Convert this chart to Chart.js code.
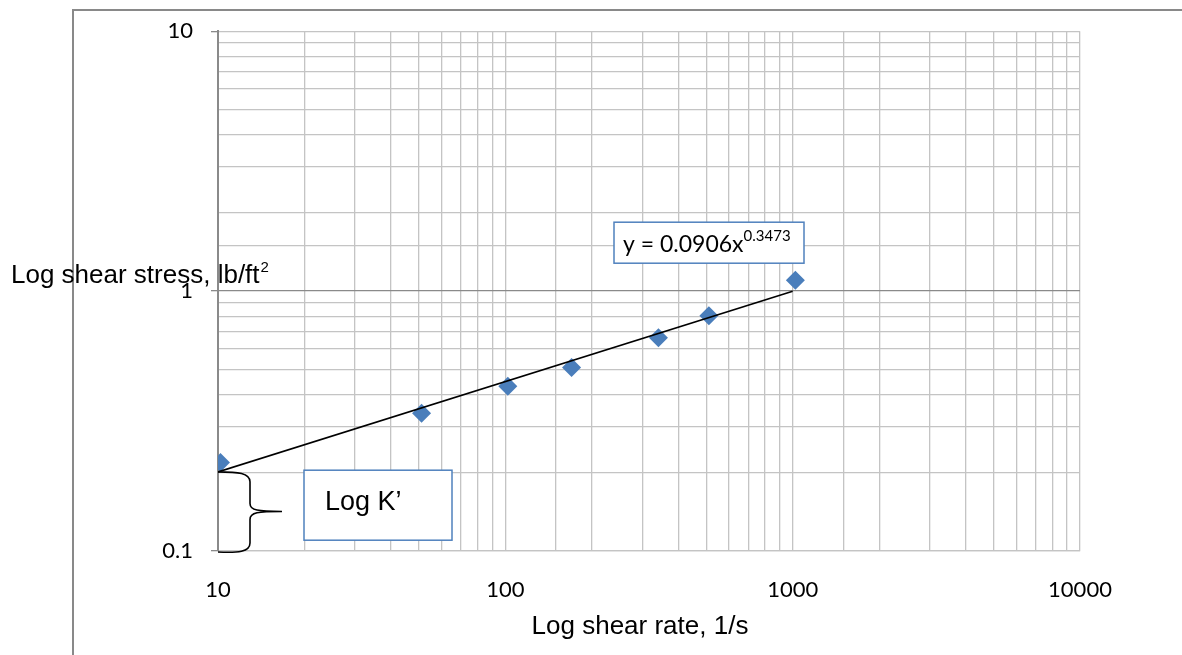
<!DOCTYPE html>
<html>
<head>
<meta charset="utf-8">
<script src="https://cdn.jsdelivr.net/npm/chart.js@4"></script>
<style>
  body { margin: 0; background: #fff; }
  #wrap { position: relative; width: 1182px; height: 655px; }
</style>
</head>
<body>
<div id="wrap"><canvas id="shearChart" width="1182" height="655"></canvas></div>
<script>
// shear rate (1/s) and shear stress (lb/ft2)
const shearRate = [10.2, 51.1, 102, 170, 341, 511, 1022];
const shearStress = [0.219, 0.339, 0.43, 0.508, 0.662, 0.803, 1.10];
// power-law trendline end points
const trendX = [10, 1000];
const trendY = [0.2016, 0.998];
const xTicks = [10, 100, 1000, 10000];
const yTicks = [0.1, 1, 10];

const ctx = document.getElementById('shearChart').getContext('2d');
const gridLight = '#c4c4c4';
const boxBlue = '#4f81bd';
const titleFont = '"Liberation Sans", Arial, sans-serif';
const calFont = 'Lato, "Open Sans", sans-serif';

const isDecade = (v) => Math.abs(Math.log10(v) - Math.round(Math.log10(v))) < 1e-6;

const annotations = {
  id: 'annotations',
  afterDraw(chart) {
    const c = chart.ctx;
    const area = chart.chartArea;
    const xs = chart.scales.x;
    const ys = chart.scales.y;
    c.save();

    // outer frame (left and top edges)
    c.strokeStyle = '#898989';
    c.lineWidth = 2;
    c.beginPath();
    c.moveTo(73, 655);
    c.lineTo(73, 10);
    c.lineTo(1182, 10);
    c.stroke();

    // axis titles
    c.fillStyle = '#000';
    c.font = '26px ' + titleFont;
    c.textBaseline = 'middle';
    c.textAlign = 'center';
    c.fillText('Log shear rate, 1/s', (area.left + area.right) / 2 - 9, 627);
    c.textAlign = 'left';
    const yTitle = 'Log shear stress, lb/ft';
    c.fillText(yTitle, 11, 276);
    const w = c.measureText(yTitle).width;
    c.font = '15px ' + titleFont;
    c.fillText('2', 11 + w + 1, 268);

    // equation box
    const ex = area.left + 396, ey = area.top + 191;
    c.fillStyle = '#fff';
    c.fillRect(ex, ey, 190, 41);
    c.strokeStyle = boxBlue;
    c.lineWidth = 1.5;
    c.strokeRect(ex, ey, 190, 41);
    c.fillStyle = '#000';
    c.font = '23px ' + calFont;
    c.textBaseline = 'alphabetic';
    const eq = 'y = 0.0906x';
    c.fillText(eq, ex + 9, ey + 30);
    const ew = c.measureText(eq).width;
    c.font = '15px ' + calFont;
    c.fillText('0.3473', ex + 9 + ew, ey + 19);

    // Log K' box
    const kx = area.left + 86, ky = area.top + 439;
    c.fillStyle = '#fff';
    c.fillRect(kx, ky, 148, 70);
    c.strokeStyle = boxBlue;
    c.strokeRect(kx, ky, 148, 70);
    c.fillStyle = '#000';
    c.font = '27px ' + titleFont;
    c.textBaseline = 'middle';
    c.fillText('Log K\u2019', kx + 21, ky + 32);

    // brace between 0.1 and the intercept
    const bx = xs.getPixelForValue(trendX[0]);
    const top = ys.getPixelForValue(trendY[0]);
    const bot = ys.getPixelForValue(0.1);
    const mid = (top + bot) / 2;
    c.strokeStyle = '#000';
    c.lineWidth = 1.6;
    c.beginPath();
    c.moveTo(bx, top);
    c.bezierCurveTo(bx + 20, top, bx + 32, top + 1, bx + 32, top + 10);
    c.lineTo(bx + 32, mid - 8);
    c.bezierCurveTo(bx + 32, mid - 1, bx + 40, mid, bx + 64, mid);
    c.moveTo(bx + 64, mid);
    c.bezierCurveTo(bx + 40, mid, bx + 32, mid + 1, bx + 32, mid + 8);
    c.lineTo(bx + 32, bot - 8);
    c.bezierCurveTo(bx + 32, bot + 1, bx + 20, bot + 2, bx, bot + 1);
    c.stroke();

    c.restore();
  }
};

new Chart(ctx, {
  type: 'scatter',
  data: {
    datasets: [
      {
        label: 'Trend',
        type: 'line',
        data: trendX.map((x, i) => ({ x, y: trendY[i] })),
        borderColor: '#000',
        borderWidth: 1.6,
        pointRadius: 0,
        fill: false,
        order: 0
      },
      {
        label: 'Shear stress',
        data: shearRate.map((x, i) => ({ x, y: shearStress[i] })),
        pointStyle: 'rectRot',
        pointRadius: 9.5,
        backgroundColor: '#4a7ebb',
        borderColor: '#4a7ebb',
        borderWidth: 0,
        order: 1
      }
    ]
  },
  options: {
    responsive: false,
    animation: false,
    layout: { autoPadding: false, padding: { left: 0, right: 102, top: 26, bottom: 0 } },
    plugins: { legend: { display: false }, tooltip: { enabled: false } },
    scales: {
      x: {
        type: 'logarithmic',
        min: 10,
        max: 10000,
        afterFit: (scale) => { scale.height = 104; },
        grid: { color: gridLight, lineWidth: 1.3, drawTicks: false },
        border: { color: gridLight, width: 1.3 },
        ticks: {
          autoSkip: false,
          maxRotation: 0,
          padding: 26,
          color: '#000',
          font: { family: calFont, size: 22 },
          callback: (v) => (xTicks.includes(v) ? String(v) : '')
        }
      },
      y: {
        type: 'logarithmic',
        min: 0.1,
        max: 10,
        afterFit: (scale) => { scale.width = 218; },
        grid: {
          color: (c) => (c.tick && c.tick.value === 1 ? '#8a8a8a' : gridLight),
          lineWidth: 1.3,
          tickLength: 7,
          tickColor: (c) => (c.tick && isDecade(c.tick.value) ? '#8a8a8a' : 'rgba(0,0,0,0)')
        },
        border: { color: '#8a8a8a', width: 2 },
        ticks: {
          autoSkip: false,
          padding: 18,
          color: '#000',
          font: { family: calFont, size: 22 },
          callback: (v) => (yTicks.some((t) => Math.abs(t - v) < 1e-9) ? String(v) : '')
        }
      }
    }
  },
  plugins: [annotations]
});
</script>
</body>
</html>
